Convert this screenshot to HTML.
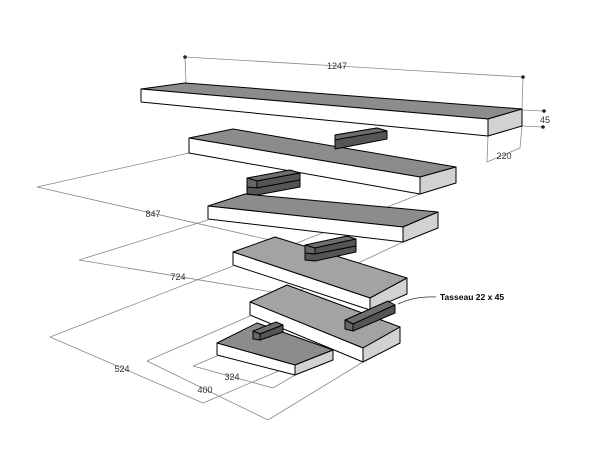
<!DOCTYPE html>
<html><head><meta charset="utf-8"><style>
html,body{margin:0;padding:0;background:#fff;}
svg{display:block;}
text{font-family:"Liberation Sans",sans-serif;font-size:9px;fill:#333;}
</style></head><body>
<svg width="606" height="451" viewBox="0 0 606 451" xmlns="http://www.w3.org/2000/svg">
<g stroke="#888" stroke-width="0.8" fill="none">
<line x1="185" y1="57" x2="523" y2="77"/>
<line x1="185" y1="57" x2="186" y2="83"/>
<line x1="523" y1="77" x2="522" y2="109"/>
<line x1="522" y1="110" x2="544" y2="111"/>
<line x1="522" y1="126" x2="543" y2="127"/>
<line x1="487" y1="162" x2="520" y2="148"/>
<line x1="488" y1="136" x2="487" y2="162"/>
<line x1="522" y1="126" x2="520" y2="148"/>
<line x1="37" y1="187" x2="292" y2="245"/>
<line x1="37" y1="187" x2="189" y2="153"/>
<line x1="292" y1="245" x2="420" y2="194"/>
<line x1="79" y1="260" x2="290" y2="295"/>
<line x1="79" y1="260" x2="208" y2="220"/>
<line x1="290" y1="295" x2="403" y2="242"/>
<line x1="50" y1="337" x2="203" y2="403"/>
<line x1="50" y1="337" x2="233" y2="266"/>
<line x1="203" y1="403" x2="340" y2="345"/>
<line x1="147" y1="361" x2="268" y2="420"/>
<line x1="147" y1="361" x2="250" y2="316"/>
<line x1="268" y1="420" x2="363" y2="362"/>
<line x1="193" y1="366" x2="273" y2="388"/>
<line x1="193" y1="366" x2="217" y2="356"/>
<line x1="273" y1="388" x2="295" y2="375"/>
</g>
<g fill="#222">
<circle cx="185" cy="57" r="1.8"/><circle cx="523" cy="77" r="1.8"/>
<circle cx="544" cy="111" r="1.8"/><circle cx="543" cy="127" r="1.8"/>
</g>
<g stroke="#000" stroke-width="1" stroke-linejoin="round">
<!-- board 1 -->
<polygon points="141,89 185,83 522,109 488,119" fill="#8c8c8c"/>
<polygon points="141,89 488,119 488,136 141,102" fill="#fff"/>
<polygon points="488,119 522,109 522,126 488,136" fill="#d2d2d2"/>
<!-- board 2 -->
<polygon points="189,138 233,129 456,167 420,177" fill="#8c8c8c"/>
<polygon points="189,138 420,177 420,194 189,153" fill="#fff"/>
<polygon points="420,177 456,167 456,183 420,194" fill="#d2d2d2"/>
<!-- block 1 -->
<polygon points="335,140 335,135 377,128 387,131 387,139 335,149" fill="#555"/>
<polygon points="335,135 377,128 387,131 345,138 335,140" fill="#6e6e6e"/>
<!-- board 3 -->
<polygon points="208,206 245,194 438,212 403,227" fill="#8c8c8c"/>
<polygon points="208,206 403,227 403,242 208,219" fill="#fff"/>
<polygon points="403,227 438,212 438,228 403,242" fill="#d2d2d2"/>
<!-- blocks pair -->
<polygon points="247,178 290,170 300,173 257,181" fill="#6e6e6e"/>
<polygon points="247,178 257,181 257,188 247,187" fill="#666"/>
<polygon points="257,181 300,173 300,180 257,188" fill="#555"/>
<polygon points="247,187 257,188 300,180 300,187 257,195 247,194" fill="#555"/>
<!-- board 4 -->
<polygon points="233,252 275,237 407,278 370,298" fill="#a3a3a3"/>
<polygon points="233,252 370,298 370,310 233,265" fill="#fff"/>
<polygon points="370,298 407,278 407,294 370,310" fill="#d2d2d2"/>
<!-- blocks under board 3 -->
<polygon points="305,245 347,236 356,239 315,248" fill="#6e6e6e"/>
<polygon points="305,245 315,248 315,254 305,253" fill="#666"/>
<polygon points="315,248 356,239 356,246 315,254" fill="#555"/>
<polygon points="305,253 315,254 356,246 356,252 315,261 305,260" fill="#555"/>
<!-- board 5 -->
<polygon points="250,302 287,285 400,327 363,348" fill="#a3a3a3"/>
<polygon points="250,302 363,348 363,362 250,315" fill="#fff"/>
<polygon points="363,348 400,327 400,343 363,362" fill="#d2d2d2"/>
<!-- tasseau block -->
<polygon points="345,320 388,301 395,305 353,324" fill="#6e6e6e"/>
<polygon points="345,320 353,324 353,331 345,329" fill="#666"/>
<polygon points="353,324 395,305 395,313 353,331" fill="#555"/>
<!-- board 6 -->
<polygon points="217,343 257,323 333,350 295,365" fill="#8c8c8c"/>
<polygon points="217,343 295,365 295,375 217,355" fill="#fff"/>
<polygon points="295,365 333,350 333,360 295,375" fill="#d2d2d2"/>
<!-- block on board 6 -->
<polygon points="253,331 276,322 283,325 260,334" fill="#6e6e6e"/>
<polygon points="253,331 260,334 260,340 253,339" fill="#666"/>
<polygon points="260,334 283,325 283,332 260,340" fill="#555"/>
</g>
<path d="M398,304 Q415,296 436,297" stroke="#333" stroke-width="0.8" fill="none"/>
<g text-anchor="middle">
<text x="337" y="69">1247</text>
<text x="545" y="123">45</text>
<text x="504" y="159">220</text>
<text x="153" y="217">847</text>
<text x="178" y="280">724</text>
<text x="122" y="372">524</text>
<text x="205" y="393">400</text>
<text x="232" y="380">324</text>
</g>
<text x="440" y="300" style="font-weight:bold;fill:#000;font-size:8.5px">Tasseau 22 x 45</text>
</svg>
</body></html>
